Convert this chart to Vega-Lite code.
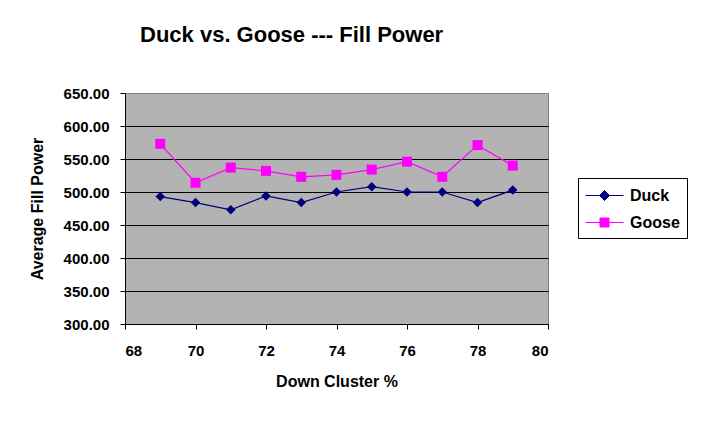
{
  "$schema": "https://vega.github.io/schema/vega-lite/v6.json",
  "width": 423,
  "height": 231,
  "autosize": "none",
  "padding": {"left": 125, "top": 93, "right": 153, "bottom": 99},
  "background": "white",
  "title": {
    "text": "Duck vs. Goose --- Fill Power",
    "anchor": "start",
    "frame": "group",
    "dx": 15,
    "offset": 39,
    "font": "Liberation Sans",
    "fontSize": 22,
    "fontWeight": "bold",
    "color": "black"
  },
  "config": {
    "view": {"fill": "#B3B3B3", "stroke": "#808080", "strokeWidth": 1},
    "axis": {
      "labelFont": "Liberation Sans",
      "labelFontSize": 15,
      "labelFontWeight": "bold",
      "labelColor": "black",
      "titleFont": "Liberation Sans",
      "titleFontSize": 16,
      "titleFontWeight": "bold",
      "titleColor": "black",
      "domainColor": "black",
      "tickColor": "black",
      "tickSize": 5
    }
  },
  "data": {
    "values": [
      {"cluster": 69, "series": "Duck", "fill": 493},
      {"cluster": 70, "series": "Duck", "fill": 484},
      {"cluster": 71, "series": "Duck", "fill": 473},
      {"cluster": 72, "series": "Duck", "fill": 494},
      {"cluster": 73, "series": "Duck", "fill": 484},
      {"cluster": 74, "series": "Duck", "fill": 500},
      {"cluster": 75, "series": "Duck", "fill": 508},
      {"cluster": 76, "series": "Duck", "fill": 500},
      {"cluster": 77, "series": "Duck", "fill": 500},
      {"cluster": 78, "series": "Duck", "fill": 484},
      {"cluster": 79, "series": "Duck", "fill": 503},
      {"cluster": 69, "series": "Goose", "fill": 573},
      {"cluster": 70, "series": "Goose", "fill": 514},
      {"cluster": 71, "series": "Goose", "fill": 537},
      {"cluster": 72, "series": "Goose", "fill": 532},
      {"cluster": 73, "series": "Goose", "fill": 523},
      {"cluster": 74, "series": "Goose", "fill": 526},
      {"cluster": 75, "series": "Goose", "fill": 534},
      {"cluster": 76, "series": "Goose", "fill": 546},
      {"cluster": 77, "series": "Goose", "fill": 523},
      {"cluster": 78, "series": "Goose", "fill": 571},
      {"cluster": 79, "series": "Goose", "fill": 540}
    ]
  },
  "encoding": {
    "x": {
      "field": "cluster",
      "type": "quantitative",
      "scale": {"domain": [68, 80], "nice": false, "zero": false},
      "axis": {
        "values": [68, 70, 72, 74, 76, 78, 80],
        "grid": false,
        "title": "Down Cluster %",
        "labelPadding": 14,
        "titlePadding": 15
      }
    },
    "y": {
      "field": "fill",
      "type": "quantitative",
      "scale": {"domain": [300, 650], "nice": false, "zero": false},
      "axis": {
        "values": [300, 350, 400, 450, 500, 550, 600, 650],
        "format": ".2f",
        "grid": true,
        "gridColor": {"condition": {"test": "datum.value === 650", "value": "#808080"}, "value": "black"},
        "gridOpacity": 1,
        "gridWidth": 1,
        "title": "Average Fill Power",
        "labelPadding": 11,
        "titlePadding": 18
      }
    },
    "color": {
      "field": "series",
      "type": "nominal",
      "scale": {"domain": ["Duck", "Goose"], "range": ["#000080", "#FF00FF"]},
      "legend": {
        "title": null,
        "orient": "none",
        "legendX": 453,
        "legendY": 85,
        "padding": 7,
        "strokeColor": "black",
        "fillColor": "white",
        "labelFont": "Liberation Sans",
        "labelFontSize": 16,
        "labelFontWeight": "bold",
        "labelColor": "black",
        "labelOffset": 24,
        "rowPadding": 8,
        "symbolSize": 400,
        "encode": {
          "symbols": {
            "update": {
              "shape": {"signal": "datum.value === 'Duck' ? 'M-1,0L2.8,0M0.9,-0.5L1.4,0L0.9,0.5L0.4,0Z' : 'M-1,0L2.8,0M0.45,-0.45L1.35,-0.45L1.35,0.45L0.45,0.45Z'"},
              "fill": {"signal": "datum.value === 'Duck' ? '#000080' : '#FF00FF'"},
              "stroke": {"signal": "datum.value === 'Duck' ? '#000080' : '#FF00FF'"},
              "strokeWidth": {"value": 1},
              "opacity": {"value": 1}
            }
          }
        }
      }
    }
  },
  "layer": [
    {"mark": {"type": "line", "strokeWidth": 1.2}},
    {
      "transform": [{"filter": "datum.series === 'Duck'"}],
      "mark": {"type": "point", "filled": true, "opacity": 1, "shape": "diamond", "size": 90}
    },
    {
      "transform": [{"filter": "datum.series === 'Goose'"}],
      "mark": {"type": "point", "filled": true, "opacity": 1, "shape": "square", "size": 100}
    }
  ]
}
